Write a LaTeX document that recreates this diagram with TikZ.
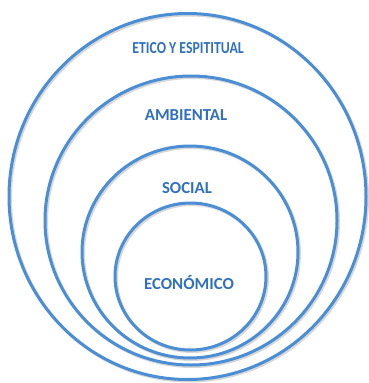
\documentclass[tikz,border=0pt]{standalone}
\usepackage{fontspec}
\setmainfont{Carlito}
\usetikzlibrary{positioning}
\usetikzlibrary{shapes.geometric}
\definecolor{ringblue}{RGB}{74,142,214}
\definecolor{labelblue}{RGB}{48,112,190}

\begin{document}
\begin{tikzpicture}[x=1pt, y=-1pt,
	ring/.style={ellipse, draw=ringblue, line width=3pt, inner sep=0pt},
	ringshadow/.style={ellipse, draw=black!45, opacity=0.35, line width=3pt, inner sep=0pt},
	label/.style={font=\bfseries\fontsize{16.8}{18}\selectfont, text=labelblue}
	]
	\useasboundingbox (0,0) rectangle (369,383);
	% soft shadows
	\foreach \cx/\cy/\w/\h in {187.5/196.5/357/366, 191/220.5/292/289, 190/252/216/212, 190.5/276.5/151/147}
		\node[ringshadow, minimum width=\w pt, minimum height=\h pt] at (\cx+1.5,\cy+1.5) {};
	% rings from outside to inside
	\node[ring, minimum width=357pt, minimum height=366pt] (etico) at (187.5,196.5) {};
	\node[ring, minimum width=292pt, minimum height=289pt] (ambiental) at (191,220.5) {};
	\node[ring, minimum width=216pt, minimum height=212pt] (social) at (190,252) {};
	\node[ring, minimum width=151pt, minimum height=147pt] (economico) at (190.5,276.5) {};

	\node[label, xscale=0.82] (teti) at (188,48) {ETICO Y ESPITITUAL};
	\node[label] (tamb) at (186,115) {AMBIENTAL};
	\node[label] (tsoc) at (187,188) {SOCIAL};
	\node[label] (teco) at (189,282) {ECONÓMICO};
\end{tikzpicture}
\end{document}
